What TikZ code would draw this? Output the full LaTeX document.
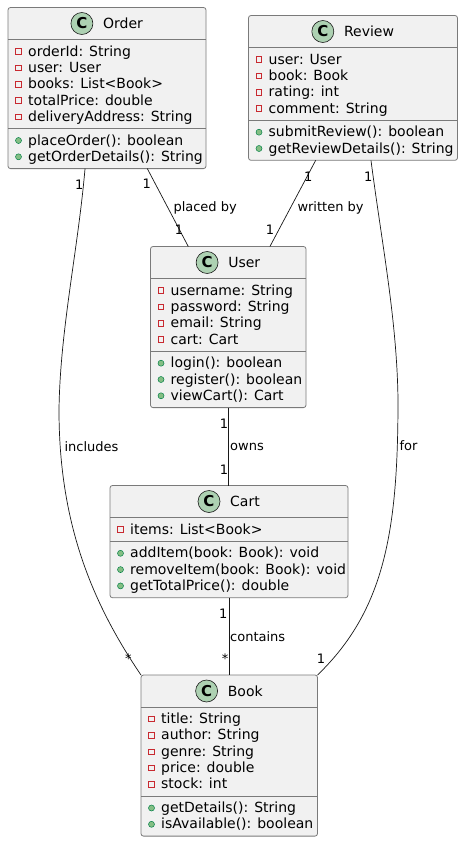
\documentclass[tikz,border=0pt]{standalone}
\usepackage{fontspec}
\setmainfont{DejaVu Sans}
\usetikzlibrary{calc}
\definecolor{boxc}{HTML}{F1F1F1}
\definecolor{bordc}{HTML}{181818}
\definecolor{boxbord}{HTML}{7A7A7A}
\definecolor{circc}{HTML}{ADD1B2}
\definecolor{privc}{HTML}{C82930}
\definecolor{pubfill}{HTML}{84BE84}
\definecolor{pubdraw}{HTML}{038048}
\newcommand{\rowfont}{\fontsize{14}{16}\selectfont}
\newcommand{\lblfont}{\fontsize{13}{15}\selectfont}
\tikzset{
  cls/.style={draw=boxbord, fill=boxc, rounded corners=2.5pt, line width=0.8pt, outer sep=0pt, inner sep=0pt},
  sepl/.style={draw=boxbord, line width=0.8pt},
  ccirc/.style={circle, minimum size=22pt, inner sep=0pt, fill=circc, draw=bordc, line width=0.6pt, font=\fontsize{15}{15}\selectfont\bfseries},
  privic/.style={rectangle, minimum size=5.5pt, inner sep=0pt, draw=privc, line width=0.6pt},
  pubic/.style={circle, minimum size=6pt, inner sep=0pt, fill=pubfill, draw=pubdraw, line width=0.5pt},
  rowtext/.style={anchor=base west, inner sep=0pt, font=\rowfont},
  conn/.style={draw=bordc, line width=0.7pt},
  lbl/.style={inner sep=0pt, font=\lblfont},
  lblw/.style={inner sep=0pt, font=\lblfont, anchor=west}
}
% #1 id, #2 left, #3 top, #4 width, #5 title, #6 nattr, #7 attrs, #8 nmeth, #9 meths
\newcommand{\umlclass}[9]{%
  \pgfmathsetmacro\hA{16.3*#6+7.5}%
  \pgfmathsetmacro\hM{16.3*#8+7.5}%
  \pgfmathsetmacro\hT{32+\hA+\hM}%
  \node[cls, minimum width=#4, minimum height=\hT, anchor=north west] (#1) at (#2,-#3) {};
  \draw[sepl] ([yshift=-32pt]#1.north west) -- ([yshift=-32pt]#1.north east);
  \draw[sepl] ([yshift={-32-\hA}]#1.north west) -- ([yshift={-32-\hA}]#1.north east);
  \node[inner sep=0pt, font=\rowfont] (#1-h) at ([yshift=-16pt]#1.north) {\hspace*{32pt}#5};
  \node[ccirc] (#1-c) at ([xshift=11pt]#1-h.west) {C};
  \foreach \t [count=\i from 0] in {#7} {
    \node[privic] (#1-pa\i) at ({#2+10.5}, {-(#3+44+16.3*\i)}) {};
    \node[rowtext] (#1-a\i) at ({#2+20}, {-(#3+44+16.3*\i)-4.6}) {\t};
  }
  \foreach \t [count=\i from 0] in {#9} {
    \node[pubic] (#1-pm\i) at ({#2+10.5}, {-(#3+44+\hA+16.3*\i)}) {};
    \node[rowtext] (#1-m\i) at ({#2+20}, {-(#3+44+\hA+16.3*\i)-4.6}) {\t};
  }
}
\begin{document}
\begin{tikzpicture}[x=1pt, y=1pt]
\useasboundingbox[fill=white] (0,0) rectangle (464,-843);

\umlclass{order}{8}{7.5}{198}{Order}{5}{orderId: String, user: User, books: List<Book>, totalPrice: double, deliveryAddress: String}{2}{placeOrder(): boolean, getOrderDetails(): String}
\umlclass{review}{248.5}{15.5}{209}{Review}{4}{user: User, book: Book, rating: int, comment: String}{2}{submitReview(): boolean, getReviewDetails(): String}
\umlclass{user}{150.5}{246.5}{155.5}{User}{4}{username: String, password: String, email: String, cart: Cart}{3}{login(): boolean, register(): boolean, viewCart(): Cart}
\umlclass{cart}{110}{485.5}{238}{Cart}{1}{items: List<Book>}{3}{addItem(book: Book): void, removeItem(book: Book): void, getTotalPrice(): double}
\umlclass{book}{141}{675}{176.5}{Book}{5}{title: String, author: String, genre: String, price: double, stock: int}{2}{getDetails(): String, isAvailable(): boolean}

% placed by
\draw[conn] ($(order.south west)!0.7035!(order.south east)$) -- ($(user.north west)!0.243!(user.north east)$);
\node[lbl] (pb1) at (146.7,-184) {1};
\node[lbl] (pb2) at (179,-230) {1};
\node[lblw] (pbt) at (173.3,-207.7) {placed by};

% written by
\draw[conn] ($(review.south west)!0.3215!(review.south east)$) -- ($(user.north west)!0.768!(user.north east)$);
\node[lbl] (wb1) at (308.3,-177) {1};
\node[lbl] (wb2) at (270,-230) {1};
\node[lblw] (wbt) at (297.3,-207.7) {written by};

% includes
\draw[conn] ($(order.south west)!0.389!(order.south east)$) .. controls (78,-250) and (60,-330) .. (59,-410) .. controls (59,-520) and (90,-600) .. (book.north west);
\node[lbl] (in1) at (79.3,-185) {1};
\node[lbl] (in2) at (128.3,-659) {*};
\node[lblw] (int) at (64.3,-446.7) {includes};

% for
\draw[conn] ($(review.south west)!0.586!(review.south east)$) .. controls (382,-245) and (397,-320) .. (398,-400) .. controls (398,-530) and (385,-610) .. (book.north east);
\node[lbl] (fo1) at (368.3,-177) {1};
\node[lbl] (fo2) at (321,-659) {1};
\node[lblw] (fot) at (399.3,-446) {for};

% owns
\draw[conn] (user.south) -- (user.south |- cart.north);
\node[lbl] (ow1) at (224,-424) {1};
\node[lbl] (ow2) at (224,-469.3) {1};
\node[lblw] (owt) at (230,-446.7) {owns};

% contains
\draw[conn] (cart.south) -- (cart.south |- book.north);
\node[lbl] (co1) at (223.3,-613.3) {1};
\node[lbl] (co2) at (225,-659) {*};
\node[lblw] (cot) at (230,-636.7) {contains};
\end{tikzpicture}
\end{document}
